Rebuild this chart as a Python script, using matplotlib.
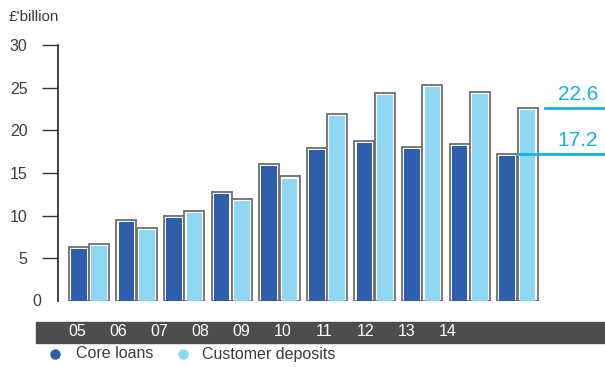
import numpy as np
import matplotlib.pyplot as plt
from matplotlib.patches import Rectangle

years = ["05", "06", "07", "08", "09", "10", "11", "12", "13", "14"]
core_loans = [6.3, 9.5, 10.0, 12.8, 16.1, 17.9, 18.8, 18.1, 18.4, 17.2]
customer_deposits = [6.7, 8.6, 10.6, 12.0, 14.6, 21.9, 24.4, 25.3, 24.5, 22.6]
yticks = [0, 5, 10, 15, 20, 25, 30]

CORE = "#2e5fac"
DEPOSIT = "#8fd8f5"
EDGE = "#6e6e6e"
CYAN = "#13b2e6"
TEXT = "#3c3c3c"
FONT = ["Liberation Sans", "DejaVu Sans"]
plt.rcParams["font.family"] = FONT

W, H = 605, 367
fig = plt.figure(figsize=(W / 100, H / 100), dpi=100)
ax = fig.add_axes([58 / W, (H - 301) / H, (W - 58) / W, 256 / H])

x = np.arange(len(years))
bw = 0.42
off = 0.215
gx = 2.2 / 47.6   # white gap inside the outline, in x units
gy = 0.25         # same gap, in y units


def framed_bars(xs, vals, color):
    # grey outline, thin white margin, then the coloured fill
    ax.bar(xs, vals, width=bw, facecolor="white", edgecolor=EDGE,
           linewidth=1.3, zorder=2)
    ax.bar(xs, np.array(vals) - gy, width=bw - 2 * gx, color=color,
           linewidth=0, zorder=3)


framed_bars(x - off, core_loans, CORE)
framed_bars(x + off, customer_deposits, DEPOSIT)

ax.set_xlim((58 - 89) / 47.6, (W - 89) / 47.6)
ax.set_ylim(0, 30)
ax.set_xticks([])
ax.set_yticks(yticks[1:])
ax.tick_params(axis="y", length=11.5, width=1.0, color="#333333",
               pad=10.5, labelsize=11.5, labelcolor=TEXT)
for s in ["top", "right", "bottom"]:
    ax.spines[s].set_visible(False)
ax.spines["left"].set_color("#333333")
ax.spines["left"].set_linewidth(1.3)
ax.text(-0.03, 0, "0", transform=ax.get_yaxis_transform(), ha="right",
        va="center", fontsize=11.5, color=TEXT)
ax.patch.set_visible(False)

# latest-year call-outs
last = len(years) - 1
ax.plot([last + off + bw / 2 + 0.15, (W - 89) / 47.6 + 0.1],
        [customer_deposits[-1]] * 2, color=CYAN, lw=2, clip_on=False, zorder=4)
ax.plot([last - off + bw / 2, (W - 89) / 47.6 + 0.1],
        [core_loans[-1]] * 2, color=CYAN, lw=2, clip_on=False, zorder=4)
for v in (customer_deposits[-1], core_loans[-1]):
    ax.text((598 - 89) / 47.6, v + 0.45, f"{v:.1f}", ha="right", va="bottom",
            fontsize=15, color=CYAN)

fig.text(9 / W, 1 - 17 / H, "£'billion", ha="left", va="center",
         fontsize=11, color=TEXT)

# year band
fig.patches.append(Rectangle((36 / W, (H - 343) / H), (W - 36) / W, 21 / H,
                             transform=fig.transFigure, color="#4d4d4d"))
for i, yr in enumerate(years):
    fig.text((76.8 + 41.2 * i) / W, 1 - 332 / H, yr, ha="center",
             va="center", fontsize=11.5, color="white")

# legend
for cx, tx, col, lab in [(55, 76, CORE, "Core loans"),
                         (183, 202, DEPOSIT, "Customer deposits")]:
    fig.add_artist(plt.Line2D([cx / W], [1 - 354 / H], marker="o",
                              markersize=6.5, color=col, linestyle="none",
                              transform=fig.transFigure))
    fig.text(tx / W, 1 - 354 / H, lab, ha="left", va="center",
             fontsize=11.5, color=TEXT)

fig.savefig("out.png", dpi=100)
